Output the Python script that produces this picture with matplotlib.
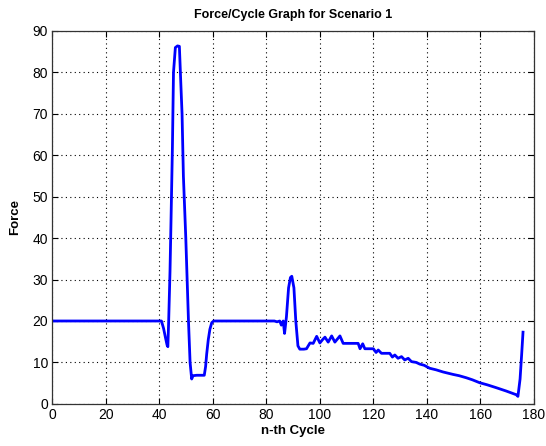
import matplotlib
matplotlib.use("Agg")
import matplotlib.pyplot as plt

# Force measured at each cycle
cycle = [0, 10, 20, 30, 40, 40.8, 41.6, 42.3, 42.9, 43.2, 43.5, 44.0, 44.4, 44.9,
         45.3, 46.0, 46.8, 47.5, 48.0, 48.5, 49.0, 49.9, 50.9, 51.5, 52.1, 52.6,
         54.0, 56.0, 56.8, 57.3, 57.7, 58.3, 58.9, 59.6, 60.3, 70, 80, 83.0, 84.0,
         85.0, 85.6, 86.3, 86.8, 87.5, 88.3, 89.0, 89.5, 90.3, 91.0, 91.8, 92.5,
         94.0, 95.0, 96.3, 97.5, 98.8, 100.0, 101.0, 101.9, 103.1, 104.4, 105.6,
         107.5, 108.7, 111.0, 114.3, 115.0, 116.0, 116.8, 120.0, 121.0, 121.8,
         123.0, 126.1, 127.1, 128.0, 129.2, 130.5, 131.7, 133.0, 134.2, 136.0,
         137.3, 139.0, 141.0, 143.5, 146.0, 149.8, 152.0, 154.7, 157.0, 159.7,
         162.5, 165.9, 169.6, 173.4, 174.0, 174.8, 175.4, 175.9]
force = [20, 20, 20, 20, 20, 20, 18.2, 16.0, 14.2, 13.8, 20.0, 32.0, 45.0, 62.0,
         80.0, 86.0, 86.4, 86.3, 78.0, 70.0, 55.0, 40.0, 20.0, 10.0, 6.0, 6.8,
         6.9, 6.9, 6.9, 9.0, 12.0, 15.5, 18.0, 19.6, 20, 20, 20, 20, 19.8, 20.0,
         19.0, 20.0, 17.0, 21.0, 28.0, 30.5, 30.8, 28.0, 20.0, 14.0, 13.2, 13.2,
         13.3, 14.7, 14.6, 16.3, 14.7, 15.5, 16.1, 14.9, 16.4, 14.9, 16.4, 14.6,
         14.6, 14.6, 13.3, 14.5, 13.3, 13.3, 12.4, 13.0, 12.2, 12.2, 11.3, 11.8,
         11.0, 11.4, 10.6, 11.0, 10.2, 10.0, 9.6, 9.3, 8.6, 8.2, 7.7, 7.1, 6.8,
         6.3, 5.8, 5.1, 4.6, 3.9, 3.1, 2.2, 1.8, 6.0, 12.0, 17.3]

x_ticks = [0, 20, 40, 60, 80, 100, 120, 140, 160, 180]
y_ticks = [0, 10, 20, 30, 40, 50, 60, 70, 80, 90]

plt.rcParams["font.family"] = ["Liberation Sans Narrow", "Liberation Sans", "DejaVu Sans"]

fig = plt.figure(figsize=(5.46, 4.46), dpi=100)
ax = fig.add_axes([0.0957, 0.0945, 0.8823, 0.8360])

ax.plot(cycle, force, color=(0, 0, 1), linewidth=2.0)

ax.set_xlim(0, 180)
ax.set_ylim(0, 90)
ax.set_xticks(x_ticks)
ax.set_yticks(y_ticks)
ax.tick_params(direction="in", top=True, right=True, length=4, width=0.8,
               labelsize=10, pad=3, colors="black")
ax.grid(True, linestyle=(0, (1, 3)), color="black", linewidth=0.8)
for sp in ax.spines.values():
    sp.set_linewidth(0.9)
    sp.set_color("#333333")

ax.set_title("Force/Cycle Graph for Scenario 1", fontsize=9, fontweight="bold", pad=9)
ax.set_xlabel("n-th Cycle", fontsize=9.5, fontweight="bold", labelpad=2)
ax.set_ylabel("Force", fontsize=9.5, fontweight="bold", labelpad=8)

fig.savefig("out.png", dpi=100, facecolor="white")
